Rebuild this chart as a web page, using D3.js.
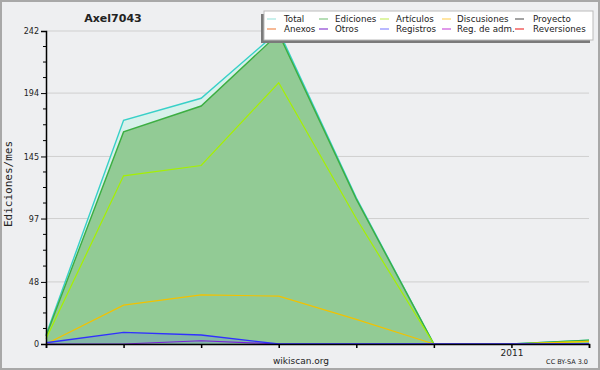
<!DOCTYPE html>
<html>
<head>
<meta charset="utf-8">
<script src="https://cdn.jsdelivr.net/npm/d3@7"></script>
<style>
  body { margin: 0; background: #fff; }
  svg { display: block; }
  text { font-family: "DejaVu Sans", sans-serif; fill: #222; }
</style>
</head>
<body>
<div id="viz"></div>
<script>
// monthly edits, Jul 2010 .. Feb 2011
var months = ['2010-07','2010-08','2010-09','2010-10','2010-11','2010-12','2011-01','2011-02'];
var total       = [7, 173, 190, 242, 113, 0, 0, 3];
var ediciones   = [6, 164, 184, 240, 112, 0, 0, 3];
var articulos   = [4, 130, 138, 202, 97, 0, 0, 2];
var discusiones = [0, 30, 38, 37, 19, 0, 0, 2];
var registros   = [1, 9, 7, 0, 0, 0, 0, 0];
var otros       = [0, 0, 2.5, 0, 0, 0, 0, 0];

var yTicks = [0, 48, 97, 145, 194, 242];

var legendNames = ['Total','Ediciones','Artículos','Discusiones','Proyecto',
                   'Anexos','Otros','Registros','Reg. de adm.','Reversiones'];
var legendColors = ['#a6e6e0','#86c986','#c8ee6a','#ffd466','#666666',
                    '#f08a50','#8a40d0','#8a8aff','#cc55dd','#ee3a3a'];

var W = 600, H = 370;
var svg = d3.select('#viz').append('svg')
    .attr('width', W).attr('height', H);

svg.append('rect')
  .attr('x', 1).attr('y', 1).attr('width', W - 2).attr('height', H - 2)
  .attr('fill', '#eeeff1').attr('stroke', '#a8a8a8').attr('stroke-width', 2);

var x = d3.scalePoint().domain(months).range([46, 589]);
var y = d3.scaleLinear().domain([0, 242]).range([344, 31]);

// grid
svg.selectAll('.grid')
  .data(yTicks.slice(1))
.enter().append('line')
  .attr('x1', 46).attr('x2', 589)
  .attr('y1', function(d){ return y(d); })
  .attr('y2', function(d){ return y(d); })
  .attr('stroke', '#cfcfcf').attr('stroke-width', 1);

function area(vals) {
  return d3.area()
    .x(function(d,i){ return x(months[i]); })
    .y0(y(0))
    .y1(function(d){ return y(d); })(vals);
}
function line(vals) {
  return d3.line()
    .x(function(d,i){ return x(months[i]); })
    .y(function(d){ return y(d); })(vals);
}

svg.append('path').attr('d', area(total)).attr('fill', '#d8f1eb');
svg.append('path').attr('d', area(ediciones)).attr('fill', '#92cb95');
svg.append('path').attr('d', area(registros)).attr('fill', '#4060ff').attr('opacity', 0.18);

svg.append('path').attr('d', line(total)).attr('fill', 'none').attr('stroke', '#38d0c8').attr('stroke-width', 1.4);
svg.append('path').attr('d', line(ediciones)).attr('fill', 'none').attr('stroke', '#3cae42').attr('stroke-width', 1.4);
svg.append('path').attr('d', line(articulos)).attr('fill', 'none').attr('stroke', '#a6f000').attr('stroke-width', 1.2);
svg.append('path').attr('d', line(discusiones)).attr('fill', 'none').attr('stroke', '#f2c200').attr('stroke-width', 1.2);
svg.append('path').attr('d', line(otros)).attr('fill', 'none').attr('stroke', '#7a20d8').attr('stroke-width', 1.2);
svg.append('path').attr('d', line(registros)).attr('fill', 'none').attr('stroke', '#3030ff').attr('stroke-width', 1.4);

// x axis
var xAxis = d3.axisBottom(x)
  .tickSize(4)
  .tickFormat(function(d){ return d.slice(5) == '01' ? d.slice(0,4) : ''; });
var gx = svg.append('g').attr('transform', 'translate(0,344)').call(xAxis);
gx.select('.domain').attr('stroke', '#000').attr('stroke-width', 1.5);
gx.selectAll('.tick line').attr('stroke', '#000').attr('stroke-width', 1.5);
gx.selectAll('.tick text').attr('font-size', 9).attr('dy', '0.55em').attr('fill', '#333');

// y axis with minor ticks
var minor = [];
for (var k = 0; k < yTicks.length - 1; k++) {
  for (var m = 1; m < 4; m++) minor.push(yTicks[k] + (yTicks[k+1] - yTicks[k]) * m / 4);
}
svg.selectAll('.minor')
  .data(minor)
.enter().append('line')
  .attr('x1', 43).attr('x2', 46)
  .attr('y1', function(d){ return y(d); })
  .attr('y2', function(d){ return y(d); })
  .attr('stroke', '#000');

var yAxis = d3.axisLeft(y).tickValues(yTicks).tickSize(5).tickPadding(2);
var gy = svg.append('g').attr('transform', 'translate(46,0)').call(yAxis);
gy.select('.domain').attr('stroke', '#000').attr('stroke-width', 1.5);
gy.selectAll('.tick line').attr('stroke', '#000');
gy.selectAll('.tick text').attr('font-size', 8).attr('fill', '#333');

svg.append('text')
  .attr('transform', 'translate(12,184) rotate(-90)')
  .attr('text-anchor', 'middle')
  .style('font-family', '"DejaVu Sans Mono", monospace')
  .attr('font-size', 11)
  .text('Ediciones/mes');

svg.append('text')
  .attr('x', 113).attr('y', 22)
  .attr('text-anchor', 'middle')
  .attr('font-size', 11).attr('font-weight', 'bold')
  .text('Axel7043');

svg.append('text')
  .attr('x', 301).attr('y', 364)
  .attr('text-anchor', 'middle')
  .attr('font-size', 9).attr('fill', '#333')
  .text('wikiscan.org');

svg.append('text')
  .attr('x', 588).attr('y', 364)
  .attr('text-anchor', 'end')
  .attr('font-size', 6.5).attr('fill', '#333')
  .text('CC BY-SA 3.0');

// legend
var lg = svg.append('g');
lg.append('rect').attr('x', 261).attr('y', 14).attr('width', 329).attr('height', 29).attr('fill', '#7a7a7a');
lg.append('rect').attr('x', 264).attr('y', 11).attr('width', 329).attr('height', 29)
  .attr('fill', '#ffffff').attr('stroke', '#bbbbbb').attr('stroke-width', 1);

var colX = [267, 319, 380, 442, 515];
var colT = [284, 335, 396, 457, 533];
legendNames.forEach(function(name, i){
  var c = i % 5, r = Math.floor(i / 5);
  var yy = 19 + r * 10;
  lg.append('line')
    .attr('x1', colX[c]).attr('x2', colX[c] + 9)
    .attr('y1', yy).attr('y2', yy)
    .attr('stroke', legendColors[i]).attr('stroke-width', 1.2);
  lg.append('text')
    .attr('x', colT[c]).attr('y', yy + 3.3)
    .attr('font-size', 8.7).attr('fill', '#222')
    .text(name);
});
</script>
</body>
</html>
